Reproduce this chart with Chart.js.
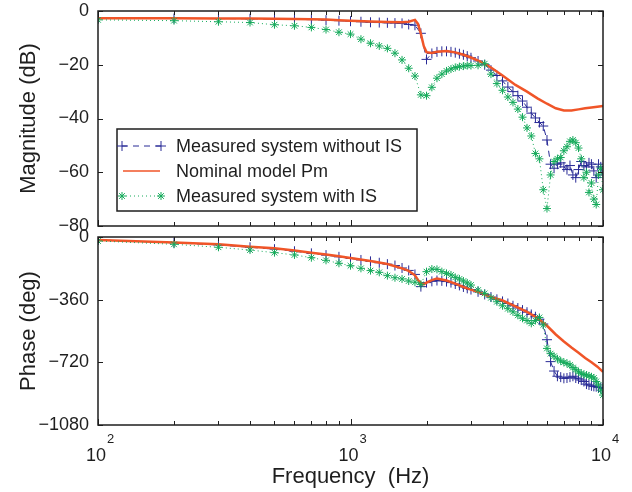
<!DOCTYPE html>
<html>
<head>
<meta charset="utf-8">
<script src="https://cdn.jsdelivr.net/npm/chart.js@4.4.1/dist/chart.umd.min.js"></script>
<style>
html, body { margin: 0; padding: 0; background: #fff; }
#wrap { position: relative; width: 632px; height: 492px; overflow: hidden; }
#magBox { position: absolute; left: 0; top: 0; width: 632px; height: 240px; }
#phaseBox { position: absolute; left: 0; top: 228px; width: 632px; height: 264px; }
</style>
</head>
<body>
<div id="wrap">
  <div id="magBox"><canvas id="magChart" width="632" height="240"></canvas></div>
  <div id="phaseBox"><canvas id="phaseChart" width="632" height="264"></canvas></div>
</div>
<script>
// measured points (Hz)
const freq = [
  100, 200, 300, 400, 500, 600, 700, 800, 900, 1000,
  1100, 1200, 1300, 1400, 1500, 1600, 1700, 1800, 1900, 2000,
  2100, 2200, 2300, 2400, 2500, 2600, 2700, 2800, 2900, 3000,
  3200, 3400, 3600, 3800, 4000, 4200, 4400, 4600, 4800, 5000,
  5200, 5400, 5600, 5800, 6000, 6200, 6400, 6600, 6800, 7000,
  7200, 7400, 7600, 7800, 8000, 8200, 8400, 8600, 8800, 9000,
  9200, 9400, 9600, 9800, 10000
];
const magWithoutIS = [
  -2.7, -2.8, -2.8, -2.9, -3.0, -3.1, -3.2, -3.4, -3.6, -3.8,
  -4.0, -4.2, -4.3, -4.4, -4.5, -4.6, -5.0, -5.3, -8.3, -18.0,
  -15.8, -15.2, -15.0, -15.0, -15.2, -15.5, -15.9, -16.3, -16.8, -17.4,
  -18.6, -20.0, -22.0, -24.0, -26.0, -28.3, -30.0, -31.5, -33.5, -35.8,
  -38.0, -39.8, -41.5, -42.8, -48.0, -57.0, -58.5, -57.0, -56.5, -58.0,
  -59.0, -57.5, -61.0, -62.0, -59.0, -56.0, -57.5, -58.0, -56.5, -57.0,
  -59.5, -62.0, -57.0, -58.0, -61.0
];
const magWithIS = [
  -3.3, -3.6, -4.0, -4.3, -5.1, -5.5, -6.1, -6.9, -7.9, -8.6,
  -10.5, -12.0, -13.0, -13.9, -15.7, -18.2, -21.3, -24.2, -31.2, -31.5,
  -28.4, -25.0, -23.5, -22.3, -21.6, -21.0, -20.7, -20.5, -20.3, -20.3,
  -20.2, -19.6, -23.5, -27.0, -29.5, -32.0, -34.0, -36.5, -39.5, -43.5,
  -46.5, -53.0, -55.0, -66.5, -73.5, -61.0, -56.0, -55.0, -54.5, -52.0,
  -50.5, -48.5, -48.0, -49.0, -51.0, -55.0, -62.0, -60.0, -67.5, -64.0,
  -70.0, -72.0, -61.0, -58.5, -66.5
];
const phaseWithoutIS = [
  -17, -33, -46, -59, -70, -82, -94, -104, -114, -123,
  -132, -140, -148, -156, -164, -178, -192, -215, -285, -262,
  -255, -250, -252, -256, -262, -270, -278, -287, -295, -302,
  -315, -330, -345, -358, -370, -382, -395, -408, -420, -432,
  -445, -458, -472, -500, -590, -716, -770, -800, -805, -812,
  -810, -805, -800, -810, -815, -822, -830, -845, -850, -855,
  -858, -860, -864, -866, -870
];
const phaseWithIS = [
  -23, -42, -59, -75, -90, -103, -119, -134, -151, -165,
  -180, -193, -203, -222, -234, -241, -253, -260, -272, -199,
  -184, -186, -199, -209, -218, -232, -241, -253, -264, -276,
  -305, -324, -349, -372, -395, -412, -430, -450, -467, -480,
  -496, -480, -462, -505, -640, -670, -685, -700, -712, -720,
  -726, -735, -750, -762, -775, -783, -790, -793, -798, -803,
  -810, -830, -850, -880, -908
];

// nominal model Pm
const modelFreq = [
  100, 200, 300, 400, 500, 600, 700, 800, 900, 1000,
  1200, 1400, 1600, 1700, 1800, 1850, 1900, 1950, 2000,
  2100, 2200, 2400, 2600, 2800, 3000,
  3300, 3600, 4000, 4500, 5000, 5500, 6000, 6500, 7000, 7500, 8000, 8500, 9000, 9500, 10000
];
const modelMag = [
  -2.7, -2.7, -2.8, -2.8, -2.9, -3.0, -3.1, -3.2, -3.4, -3.6,
  -3.9, -4.1, -4.2, -4.0, -3.3, -4.8, -8.5, -13.0, -15.3,
  -15.6, -15.2, -14.9, -15.4, -16.3, -17.3,
  -19.0, -21.0, -24.0, -27.5, -30.0, -32.5, -34.5, -36.2, -37.0, -37.0, -36.6, -36.2, -35.9, -35.6, -35.3
];
const modelPhase = [
  -17, -31, -42, -56, -65, -78, -90, -100, -111, -120,
  -138, -155, -180, -195, -220, -247, -265, -272, -262,
  -248, -238, -250, -268, -287, -302,
  -322, -345, -365, -398, -430, -465, -510, -560, -600, -635, -665, -695, -720, -745, -775
];

const legendLabels = ["Measured system without IS", "Nominal model Pm", "Measured system with IS"];
const magTicks = [0, -20, -40, -60, -80];
const phaseTicks = [0, -360, -720, -1080];
const xMajorTicks = [100, 1000, 10000];
const xExponents = ["2", "3", "4"];
const xMinorTicks = [200, 300, 400, 500, 600, 700, 800, 900, 2000, 3000, 4000, 5000, 6000, 7000, 8000, 9000];

const BLUE = "rgb(40, 42, 150)";
const RED = "rgb(240, 85, 40)";
const GREEN = "rgb(20, 170, 90)";
const INK = "#1e1e1e";
const FONT = "'Liberation Sans', Arial, Helvetica, sans-serif";

Chart.defaults.font.family = FONT;
Chart.defaults.color = INK;

function pts(xs, ys) {
  return xs.map((f, i) => ({ x: f, y: ys[i] }));
}

function minus(v) {
  return v < 0 ? "\u2212" + Math.abs(v) : String(v);
}

function makeDatasets(noIS, model, withIS) {
  return [
    {
      label: legendLabels[0],
      data: noIS,
      borderColor: BLUE,
      backgroundColor: BLUE,
      borderWidth: 1,
      borderDash: [6, 5],
      pointStyle: "cross",
      pointRadius: 5,
      pointBorderWidth: 1,
      order: 2,
    },
    {
      label: legendLabels[1],
      data: model,
      borderColor: RED,
      borderWidth: 2.5,
      pointRadius: 0,
      order: 1,
    },
    {
      label: legendLabels[2],
      data: withIS,
      borderColor: GREEN,
      backgroundColor: GREEN,
      borderWidth: 1,
      borderDash: [1, 3],
      pointStyle: "star",
      pointRadius: 4,
      pointBorderWidth: 1,
      order: 0,
    },
  ];
}

// box with inward ticks on all four sides, like matlab
const framePlugin = {
  id: "frame",
  afterDatasetsDraw(chart) {
    const { ctx, chartArea: a, scales } = chart;
    const x = scales.x, y = scales.y;
    ctx.save();
    ctx.strokeStyle = INK;
    ctx.lineWidth = 1;
    ctx.setLineDash([]);
    ctx.beginPath();
    xMajorTicks.concat(xMinorTicks).forEach((v) => {
      const px = Math.round(x.getPixelForValue(v)) + 0.5;
      const len = xMajorTicks.includes(v) ? 6 : 4;
      ctx.moveTo(px, a.bottom);
      ctx.lineTo(px, a.bottom - len);
      ctx.moveTo(px, a.top);
      ctx.lineTo(px, a.top + len);
    });
    y.ticks.forEach((t) => {
      const py = Math.round(y.getPixelForValue(t.value)) + 0.5;
      ctx.moveTo(a.left, py);
      ctx.lineTo(a.left + 5, py);
      ctx.moveTo(a.right, py);
      ctx.lineTo(a.right - 5, py);
    });
    ctx.stroke();
    ctx.lineWidth = 1.5;
    ctx.strokeRect(a.left, a.top, a.right - a.left, a.bottom - a.top);
    ctx.restore();
  },
};

const legendPlugin = {
  id: "bodeLegend",
  afterDraw(chart) {
    const { ctx, chartArea: a } = chart;
    const bx = a.left + 19, by = a.top + 118, bw = 300, bh = 82;
    const rows = [by + 17, by + 42, by + 67];
    ctx.save();
    ctx.fillStyle = "#fff";
    ctx.fillRect(bx, by, bw, bh);
    ctx.strokeStyle = INK;
    ctx.lineWidth = 1.5;
    ctx.strokeRect(bx, by, bw, bh);

    const x0 = bx + 5, x1 = bx + 44;
    // without IS
    ctx.strokeStyle = BLUE;
    ctx.lineWidth = 1;
    ctx.setLineDash([6, 5]);
    ctx.beginPath();
    ctx.moveTo(x0, rows[0]);
    ctx.lineTo(x1, rows[0]);
    ctx.stroke();
    ctx.setLineDash([]);
    [x0, x1].forEach((px) => Chart.helpers.drawPoint(ctx, { pointStyle: "cross", radius: 5, borderWidth: 1, rotation: 0 }, px, rows[0]));
    // model
    ctx.strokeStyle = RED;
    ctx.lineWidth = 1.5;
    ctx.beginPath();
    ctx.moveTo(x0 + 1, rows[1]);
    ctx.lineTo(x1 - 1, rows[1]);
    ctx.stroke();
    // with IS
    ctx.strokeStyle = GREEN;
    ctx.lineWidth = 1;
    ctx.setLineDash([1, 3]);
    ctx.beginPath();
    ctx.moveTo(x0, rows[2]);
    ctx.lineTo(x1, rows[2]);
    ctx.stroke();
    ctx.setLineDash([]);
    [x0, x1].forEach((px) => Chart.helpers.drawPoint(ctx, { pointStyle: "star", radius: 4, borderWidth: 1, rotation: 0 }, px, rows[2]));

    ctx.fillStyle = INK;
    ctx.font = "18px " + FONT;
    ctx.textBaseline = "middle";
    ctx.textAlign = "left";
    legendLabels.forEach((t, i) => ctx.fillText(t, bx + 59, rows[i] + 1));
    ctx.restore();
  },
};

// 10^n labels under the phase plot
const decadeLabels = {
  id: "decadeLabels",
  afterDraw(chart) {
    const { ctx, scales } = chart;
    const base = chart.chartArea.bottom + 36;
    ctx.save();
    ctx.fillStyle = INK;
    ctx.textAlign = "left";
    ctx.textBaseline = "alphabetic";
    xMajorTicks.forEach((v, i) => {
      const px = scales.x.getPixelForValue(v);
      ctx.font = "18px " + FONT;
      ctx.fillText("10", px - 12, base);
      ctx.font = "13px " + FONT;
      ctx.fillText(xExponents[i], px + 9, base - 18);
    });
    ctx.restore();
  },
};

function xScale(h, titleOn) {
  return {
    type: "logarithmic",
    min: 100,
    max: 10000,
    grid: { display: false, drawTicks: false },
    border: { display: false },
    ticks: { display: false },
    title: {
      display: titleOn,
      text: "Frequency  (Hz)",
      font: { size: 22 },
      padding: { top: 0, bottom: 2 },
    },
    afterFit: (s) => {
      s.height = h;
      s.paddingLeft = 0;
      s.paddingRight = 0;
    },
  };
}

function yScale(lo, tickList, title) {
  return {
    min: lo,
    max: 0,
    afterBuildTicks: (s) => {
      s.ticks = tickList.map((v) => ({ value: v }));
    },
    afterFit: (s) => {
      s.width = 98;
      s.paddingTop = 0;
      s.paddingBottom = 0;
    },
    grid: { display: false, drawTicks: false },
    border: { display: false },
    ticks: { padding: 9, font: { size: 18 }, callback: (v) => minus(v) },
    title: { display: true, text: title, font: { size: 22 }, padding: { top: 16, bottom: 0 } },
  };
}

const common = {
  responsive: false,
  animation: false,
  events: [],
  plugins: { legend: { display: false }, tooltip: { enabled: false } },
};

new Chart(document.getElementById("magChart"), {
  type: "line",
  data: {
    datasets: makeDatasets(pts(freq, magWithoutIS), pts(modelFreq, modelMag), pts(freq, magWithIS)),
  },
  options: {
    ...common,
    layout: { padding: { left: 0, right: 29, top: 11, bottom: 0 } },
    scales: { x: xScale(14, false), y: yScale(-80, magTicks, "Magnitude (dB)") },
  },
  plugins: [framePlugin, legendPlugin],
});

new Chart(document.getElementById("phaseChart"), {
  type: "line",
  data: {
    datasets: makeDatasets(pts(freq, phaseWithoutIS), pts(modelFreq, modelPhase), pts(freq, phaseWithIS)),
  },
  options: {
    ...common,
    layout: { padding: { left: 0, right: 29, top: 9, bottom: 0 } },
    scales: { x: xScale(67, true), y: yScale(-1080, phaseTicks, "Phase (deg)") },
  },
  plugins: [framePlugin, decadeLabels],
});
</script>
</body>
</html>
